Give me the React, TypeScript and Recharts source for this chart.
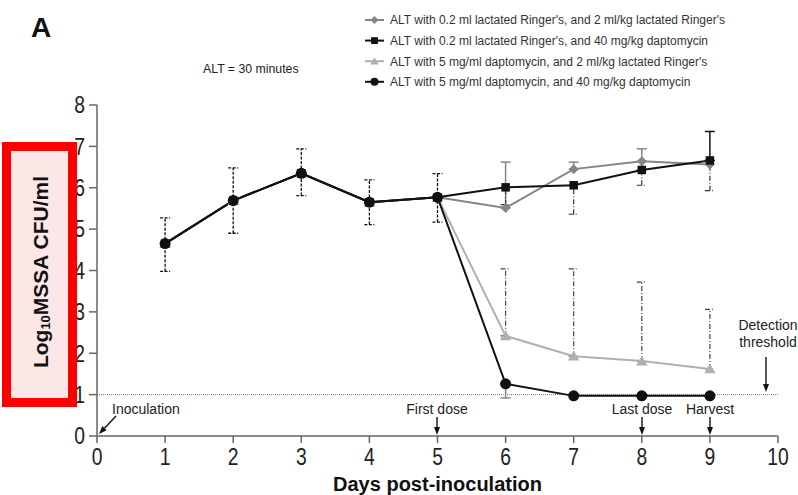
import { LineChart, Line, XAxis, YAxis, ReferenceLine, ErrorBar } from "recharts"

// days post-inoculation with a measurement
const days = [1, 2, 3, 4, 5, 6, 7, 8, 9]
const xTicks = [0, 1, 2, 3, 4, 5, 6, 7, 8, 9, 10]
const yTicks = [0, 1, 2, 3, 4, 5, 6, 7, 8]

// log10 CFU/ml per group
const ringerRinger = [4.65, 5.69, 6.35, 5.65, 5.77, 5.51, 6.45, 6.64, 6.56]
const ringerDapto = [4.65, 5.69, 6.35, 5.65, 5.77, 6.01, 6.06, 6.43, 6.66]
const daptoRinger = [4.65, 5.69, 6.35, 5.65, 5.77, 2.42, 1.93, 1.81, 1.62]
const daptoDapto = [4.65, 5.69, 6.35, 5.65, 5.77, 1.26, 0.97, 0.97, 0.97]

// error bar ends (null = no bar drawn)
const earlyUpper = [5.27, 6.48, 6.94, 6.19, 6.34, null, null, null, null]
const earlyLower = [3.98, 4.9, 5.81, 5.11, 5.17, null, null, null, null]
const daptoDaptoLower = [null, null, null, null, null, 0.92, null, null, null]
const daptoRingerUpper = [null, null, null, null, null, 4.04, 4.04, 3.72, 3.06]
const ringerRingerUpper = [null, null, null, null, null, 6.62, 6.62, 6.94, null]
const ringerDaptoUpper = [null, null, null, null, null, null, null, null, 7.36]
const ringerDaptoLower = [null, null, null, null, null, 5.59, 5.36, 6.06, 5.93]

const detectionThreshold = 1

const legendLabels = [
  "ALT with 0.2 ml lactated Ringer's, and 2 ml/kg lactated Ringer's",
  "ALT with 0.2 ml lactated Ringer's, and 40 mg/kg daptomycin",
  "ALT with 5 mg/ml daptomycin, and 2 ml/kg lactated Ringer's",
  "ALT with 5 mg/ml daptomycin, and 40 mg/kg daptomycin",
]

const r2 = (v: number) => Math.round(v * 100) / 100
const upOnly = (v: number, hi: number | null) => (hi == null ? undefined : [0, r2(hi - v)])
const downOnly = (v: number, lo: number | null) => (lo == null ? undefined : [r2(v - lo), 0])

const data = days.map((day, i) => ({
  day,
  rr: ringerRinger[i],
  rd: ringerDapto[i],
  dr: daptoRinger[i],
  dd: daptoDapto[i],
  ddEarly:
    earlyUpper[i] == null
      ? undefined
      : [r2(daptoDapto[i] - (earlyLower[i] as number)), r2((earlyUpper[i] as number) - daptoDapto[i])],
  ddLow: downOnly(daptoDapto[i], daptoDaptoLower[i]),
  drUp: upOnly(daptoRinger[i], daptoRingerUpper[i]),
  rrUp: upOnly(ringerRinger[i], ringerRingerUpper[i]),
  rdUp: upOnly(ringerDapto[i], ringerDaptoUpper[i]),
  rdLow: downOnly(ringerDapto[i], ringerDaptoLower[i]),
}))

const GRAY = "#858585"
const LIGHT = "#b0b0b0"
const BLACK = "#111"

type Shape = "diamond" | "square" | "triangle" | "circle"

function marker(shape: Shape, cx: number, cy: number, s: number, fill: string, key?: any) {
  if (shape === "diamond")
    return <path key={key} d={`M${cx},${cy - s}L${cx + s},${cy}L${cx},${cy + s}L${cx - s},${cy}Z`} fill={fill} />
  if (shape === "square")
    return <rect key={key} x={cx - s * 0.85} y={cy - s * 0.85} width={s * 1.7} height={s * 1.7} fill={fill} />
  if (shape === "triangle")
    return (
      <path key={key} d={`M${cx},${cy - s}L${cx + s * 1.05},${cy + s * 0.8}L${cx - s * 1.05},${cy + s * 0.8}Z`} fill={fill} />
    )
  return <circle key={key} cx={cx} cy={cy} r={s} fill={fill} />
}

const dotOf = (shape: Shape, fill: string, s: number) => (p: any) => marker(shape, p.cx, p.cy, s, fill, p.key ?? p.index)

const legendRows: { shape: Shape; color: string }[] = [
  { shape: "diamond", color: GRAY },
  { shape: "square", color: BLACK },
  { shape: "triangle", color: LIGHT },
  { shape: "circle", color: BLACK },
]

function Arrow({ x1, y1, x2, y2 }: { x1: number; y1: number; x2: number; y2: number }) {
  const dx = x2 - x1
  const dy = y2 - y1
  const len = Math.hypot(dx, dy)
  const ux = dx / len
  const uy = dy / len
  const bx = x2 - ux * 8
  const by = y2 - uy * 8
  return (
    <g>
      <line x1={x1} y1={y1} x2={bx} y2={by} stroke="#111" strokeWidth={1.4} />
      <path d={`M${x2},${y2}L${bx - uy * 3},${by + ux * 3}L${bx + uy * 3},${by - ux * 3}Z`} fill="#111" />
    </g>
  )
}

const font = "'Liberation Sans', Arial, sans-serif"

// condensed tick labels, like the narrow face of the original figure
const XTick = (p: any) => (
  <text
    transform={`translate(${p.x} ${p.y}) scale(0.84 1)`}
    dy="0.72em"
    textAnchor="middle"
    fontSize={23}
    fontFamily={font}
    fill="#222"
  >
    {p.payload.value}
  </text>
)

const YTick = (p: any) => (
  <text
    transform={`translate(${p.x} ${p.y}) scale(0.84 1)`}
    dy="0.36em"
    textAnchor="end"
    fontSize={23}
    fontFamily={font}
    fill="#222"
  >
    {p.payload.value}
  </text>
)

export default function App() {
  return (
    <div style={{ position: "absolute", left: 0, top: 0, width: 798, height: 495, background: "#fff" }}>
      <LineChart width={798} height={495} data={data} margin={{ top: 105, right: 20, left: 57, bottom: 0 }}>
        <XAxis
          dataKey="day"
          type="number"
          domain={[0, 10]}
          ticks={xTicks}
          interval={0}
          height={59}
          tickSize={7}
          tickMargin={5}
          stroke="#666"
          strokeWidth={1.5}
          tick={XTick}
          label={{
            value: "Days post-inoculation",
            position: "insideBottom",
            offset: 4,
            fill: "#111",
            fontSize: 20,
            fontWeight: "bold",
            fontFamily: font,
          }}
        />
        <YAxis
          type="number"
          domain={[0, 8]}
          ticks={yTicks}
          interval={0}
          width={40}
          tickSize={8}
          tickMargin={4}
          stroke="#666"
          strokeWidth={1.5}
          tick={YTick}
        />
        <ReferenceLine y={detectionThreshold} stroke="#777" strokeDasharray="1 1" strokeWidth={1} />

        <Line
          dataKey="dr"
          stroke={LIGHT}
          strokeWidth={2}
          dot={dotOf("triangle", LIGHT, 5.5)}
          activeDot={false}
          isAnimationActive={false}
        >
          <ErrorBar dataKey="drUp" direction="y" width={5} stroke="#444" strokeWidth={1.2} strokeDasharray="5 2 1 2" isAnimationActive={false} />
        </Line>
        <Line
          dataKey="rr"
          stroke={GRAY}
          strokeWidth={2}
          dot={dotOf("diamond", GRAY, 5)}
          activeDot={false}
          isAnimationActive={false}
        >
          <ErrorBar dataKey="rrUp" direction="y" width={5} stroke={GRAY} strokeWidth={1.5} isAnimationActive={false} />
        </Line>
        <Line
          dataKey="rd"
          stroke={BLACK}
          strokeWidth={2}
          dot={dotOf("square", BLACK, 5)}
          activeDot={false}
          isAnimationActive={false}
        >
          <ErrorBar dataKey="rdUp" direction="y" width={5} stroke={BLACK} strokeWidth={1.5} isAnimationActive={false} />
          <ErrorBar dataKey="rdLow" direction="y" width={5} stroke="#333" strokeWidth={1.2} strokeDasharray="5 2 1 2" isAnimationActive={false} />
        </Line>
        <Line
          dataKey="dd"
          stroke={BLACK}
          strokeWidth={2}
          dot={dotOf("circle", BLACK, 5.5)}
          activeDot={false}
          isAnimationActive={false}
        >
          <ErrorBar dataKey="ddEarly" direction="y" width={5} stroke={BLACK} strokeWidth={1.3} strokeDasharray="3 1.5" isAnimationActive={false} />
          <ErrorBar dataKey="ddLow" direction="y" width={5} stroke={GRAY} strokeWidth={1.5} isAnimationActive={false} />
        </Line>
      </LineChart>

      <svg
        width={798}
        height={495}
        style={{ position: "absolute", left: 0, top: 0, pointerEvents: "none" }}
        fontFamily={font}
      >
        <text x={31} y={37} fontSize={28} fontWeight="bold" fill="#111">
          A
        </text>
        <text x={203} y={72.5} fontSize={12.3} fill="#222">
          ALT = 30 minutes
        </text>

        {legendRows.map((row, i) => {
          const cy = 20 + i * 20.6
          return (
            <g key={i}>
              <line x1={365} y1={cy} x2={384} y2={cy} stroke={row.color} strokeWidth={2} />
              {marker(row.shape, 374.5, cy, 4, row.color)}
              <text x={390} y={cy + 4.3} fontSize={12} fill="#333">
                {legendLabels[i]}
              </text>
            </g>
          )
        })}

        <text x={112} y={414} fontSize={14} fill="#222">
          Inoculation
        </text>
        <Arrow x1={116} y1={416} x2={99} y2={434} />
        <text x={437} y={414} fontSize={14} fill="#222" textAnchor="middle">
          First dose
        </text>
        <Arrow x1={437} y1={417} x2={437} y2={435} />
        <text x={642} y={414} fontSize={14} fill="#222" textAnchor="middle">
          Last dose
        </text>
        <Arrow x1={642} y1={417} x2={642} y2={435} />
        <text x={710} y={414} fontSize={14} fill="#222" textAnchor="middle">
          Harvest
        </text>
        <Arrow x1={710} y1={417} x2={710} y2={435} />
        <text x={768} y={330} fontSize={14} fill="#222" textAnchor="middle">
          Detection
        </text>
        <text x={768} y={347} fontSize={14} fill="#222" textAnchor="middle">
          threshold
        </text>
        <Arrow x1={766} y1={357} x2={766} y2={392} />

        <rect x={6.5} y={146.5} width={66} height={256} fill="#fde6e6" stroke="#ff0000" strokeWidth={9} />
        <text
          x={40}
          y={272}
          transform="rotate(-90 40 272)"
          textAnchor="middle"
          dominantBaseline="central"
          fontSize={21}
          fontWeight="bold"
          fill="#111"
        >
          Log
          <tspan fontSize={13} dy={5}>
            10
          </tspan>
          <tspan dy={-5}>MSSA CFU/ml</tspan>
        </text>
      </svg>
    </div>
  )
}
